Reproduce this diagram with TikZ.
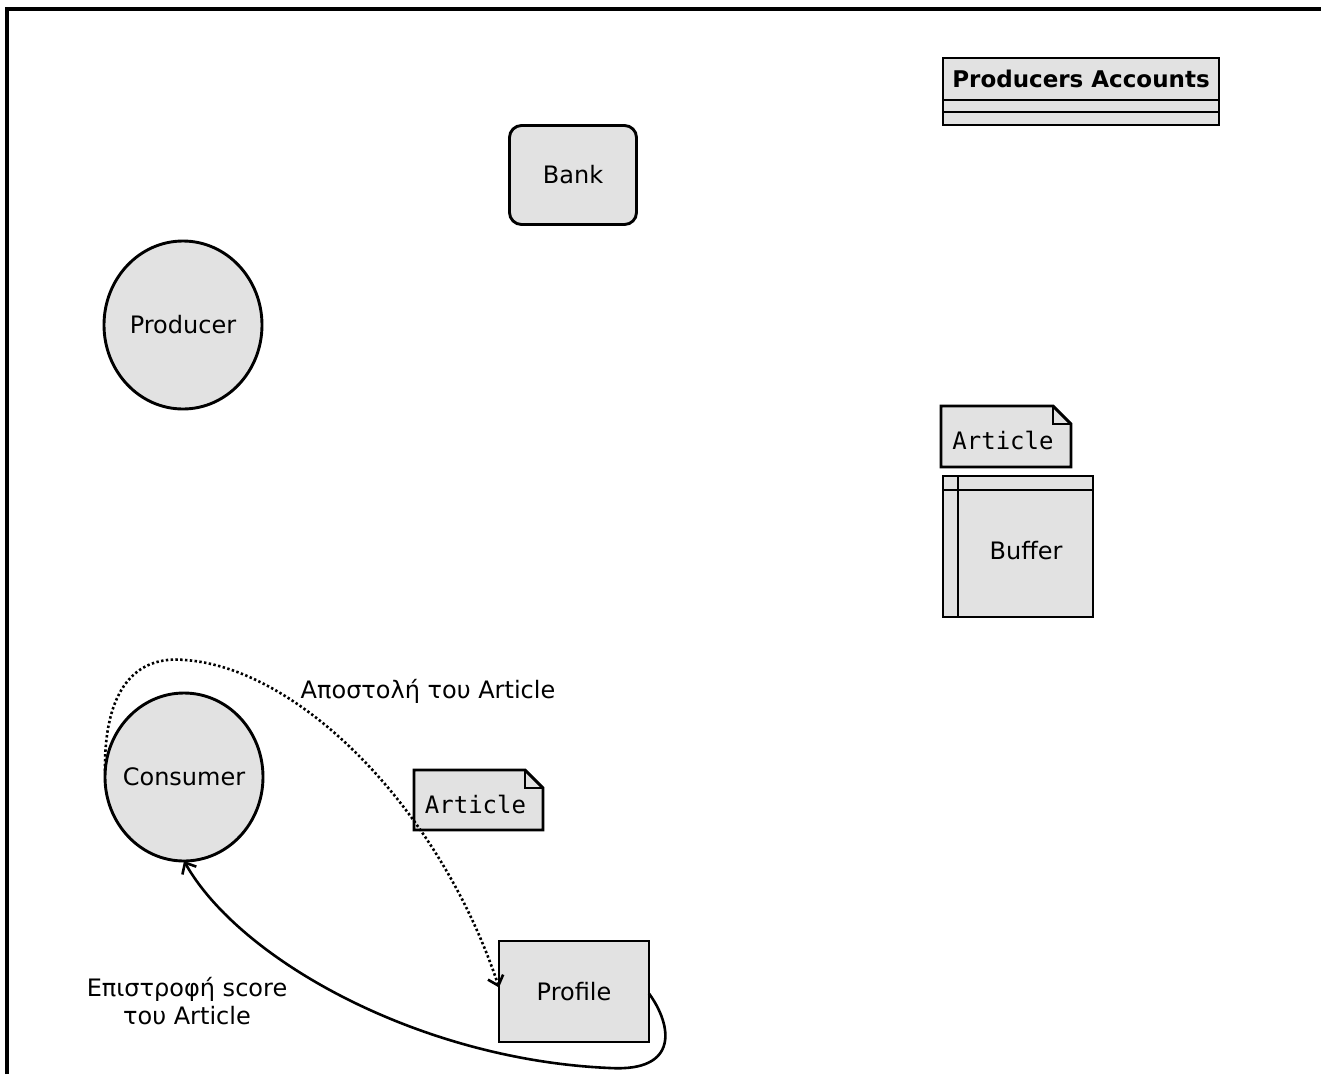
\documentclass[tikz,border=0pt]{standalone}
\usepackage{fontspec}
\setmainfont{DejaVu Sans}
\newfontfamily\monofont{DejaVu Sans Mono}
\usetikzlibrary{shapes.geometric,arrows.meta}
\definecolor{boxfill}{RGB}{226,226,226}
\tikzset{
  x=1pt,y=-1pt,
  lw/.style={line width=2.9pt},
  shapebox/.style={lw,draw=black,fill=boxfill,font=\fontsize{24}{28}\selectfont,inner sep=0pt,outer sep=0pt},
  ovalbox/.style={shapebox,ellipse,minimum width=158pt,minimum height=168pt},
  notebox/.style={inner sep=0pt,outer sep=0pt,minimum width=130pt,minimum height=61pt,font=\monofont\fontsize{24}{28}\selectfont},
  lbl/.style={font=\fontsize{24}{28}\selectfont,align=center,inner sep=0pt},
  tip/.style={-{Straight Barb[length=9pt,width=16pt,line width=2.6pt]}},
}
\begin{document}
\begin{tikzpicture}
\useasboundingbox (0,0) rectangle (1321,1074);
\fill[white] (0,0) rectangle (1321,1074);
% frame
\draw[line width=3.5pt] (7,1074) -- (7,9) -- (1321,9);

% Producers Accounts
\node[shapebox,minimum width=276pt,minimum height=42pt,font=\bfseries\fontsize{23}{27}\selectfont] (pa) at (1081,79) {Producers Accounts};
\draw[shapebox] (pa.south west) rectangle ++(276,12);
\draw[shapebox] ([yshift=-12pt]pa.south west) rectangle ++(276,13);

% Bank
\node[shapebox,rounded corners=12pt,minimum width=127pt,minimum height=99pt] (bank) at (573,175) {Bank};

% Producer
\node[ovalbox] (prod) at (183,325) {\makebox[0pt]{Producer}};

% Article note (top)
\node[notebox] (art1) at (1006,436.5) {};
\draw[shapebox] (art1.north west) -- ([xshift=-18pt]art1.north east) -- ([yshift=-18pt]art1.north east) -- (art1.south east) -- (art1.south west) -- cycle;
\draw[line width=1.4pt] ([xshift=-18pt]art1.north east) -- ([xshift=-18pt,yshift=-18pt]art1.north east) -- ([yshift=-18pt]art1.north east);
\node[notebox] at ([yshift=-4pt]art1.center) {\hspace*{-6pt}Article};

% Buffer
\node[shapebox,minimum width=150pt,minimum height=141pt] (buf) at (1018,546.5) {};
\draw[lw] ([xshift=15pt]buf.north west) -- ([xshift=15pt]buf.south west);
\draw[lw] ([yshift=-14pt]buf.north west) -- ([yshift=-14pt]buf.north east);
\node[font=\fontsize{24}{28}\selectfont,inner sep=0pt] at ([xshift=8pt,yshift=-4.5pt]buf.center) {Buffer};

% Consumer
\node[ovalbox] (cons) at (184,777) {\makebox[0pt]{Consumer}};

% Article note (bottom)
\node[notebox,minimum width=129pt,minimum height=60pt] (art2) at (478.5,800) {};
\draw[shapebox] (art2.north west) -- ([xshift=-18pt]art2.north east) -- ([yshift=-18pt]art2.north east) -- (art2.south east) -- (art2.south west) -- cycle;
\draw[line width=1.4pt] ([xshift=-18pt]art2.north east) -- ([xshift=-18pt,yshift=-18pt]art2.north east) -- ([yshift=-18pt]art2.north east);
\node[notebox,minimum width=129pt,minimum height=60pt] at ([yshift=-4pt]art2.center) {\hspace*{-6pt}Article};

% Profile
\node[shapebox,minimum width=150pt,minimum height=101pt] (prof) at (574,991.5) {Profile};

% connectors
\draw[line width=2.6pt,dash pattern=on 2.4pt off 2.4pt,tip]
  ([yshift=6pt]cons.west) .. controls (104,690) and (135,655) .. (185,660)
  .. controls (300,668) and (440,810) .. ([yshift=4pt]prof.west);
\draw[line width=2.6pt,tip]
  ([yshift=-2pt]prof.east) .. controls (672,1025) and (680,1072) .. (610,1068)
  .. controls (420,1060) and (240,960) .. (cons.south);

% labels
\node[lbl] (l1) at (428,691) {Αποστολή του Article};
\node[lbl] (l2) at (187,1001) {Επιστροφή score\\του Article};
\end{tikzpicture}
\end{document}
